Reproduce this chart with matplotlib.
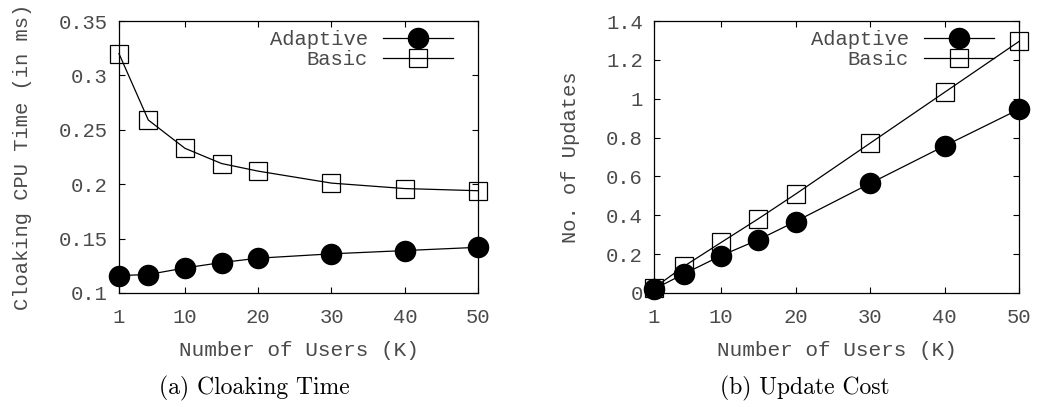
import matplotlib
matplotlib.use("Agg")
import matplotlib.pyplot as plt

# Data
users = [1, 5, 10, 15, 20, 30, 40, 50]
x_ticks = [1, 10, 20, 30, 40, 50]
x_tick_labels = ["1", "10", "20", "30", "40", "50"]

cloak_adaptive = [0.116, 0.117, 0.123, 0.128, 0.132, 0.136, 0.139, 0.142]
cloak_basic = [0.320, 0.259, 0.233, 0.219, 0.212, 0.201, 0.196, 0.194]
cloak_yticks = [0.1, 0.15, 0.2, 0.25, 0.3, 0.35]
cloak_ylabels = ["0.1", "0.15", "0.2", "0.25", "0.3", "0.35"]

update_adaptive = [0.020, 0.098, 0.192, 0.274, 0.368, 0.564, 0.757, 0.946]
update_basic = [0.026, 0.137, 0.260, 0.382, 0.509, 0.771, 1.033, 1.295]
update_yticks = [0, 0.2, 0.4, 0.6, 0.8, 1.0, 1.2, 1.4]
update_ylabels = ["0", "0.2", "0.4", "0.6", "0.8", "1", "1.2", "1.4"]

MONO = "Liberation Mono"
TXT = "#4a4a4a"
FS = 14.8

fig = plt.figure(figsize=(10.52, 4.07), dpi=100)
ax1 = fig.add_axes([0.1131, 0.2801, 0.3413, 0.6683])
ax2 = fig.add_axes([0.6217, 0.2801, 0.3470, 0.6683])


def style_axis(ax, yticks, ylabels, ylim, ylabel):
    ax.set_xlim(1, 50)
    ax.set_ylim(*ylim)
    ax.set_xticks(x_ticks)
    ax.set_xticklabels(x_tick_labels)
    ax.set_yticks(yticks)
    ax.set_yticklabels(ylabels)
    ax.tick_params(direction="in", length=4, width=0.8, top=True, right=True,
                   labelsize=FS, labelcolor=TXT)
    ax.tick_params(axis="x", pad=11)
    ax.tick_params(axis="y", pad=8)
    for lab in ax.get_xticklabels() + ax.get_yticklabels():
        lab.set_fontfamily(MONO)
    for sp in ax.spines.values():
        sp.set_linewidth(0.9)
    ax.set_xlabel("Number of Users (K)", fontfamily=MONO, fontsize=FS + 0.4,
                  color=TXT, labelpad=10)
    ax.set_ylabel(ylabel, fontfamily=MONO, fontsize=FS, color=TXT, labelpad=19)


def draw_series(ax, adaptive, basic):
    ax.plot(users, adaptive, color="black", lw=0.9, marker="o", ms=14.5,
            mfc="black", mec="black", label="Adaptive", clip_on=False, zorder=3)
    ax.plot(users, basic, color="black", lw=0.9, marker="s", ms=13.5,
            mfc="none", mec="black", mew=0.9, label="Basic", clip_on=False,
            zorder=3)
    leg = ax.legend(loc="upper right", bbox_to_anchor=(0.957, 1.0),
                    frameon=False, markerfirst=False, handlelength=3.4,
                    handletextpad=0.75, labelspacing=0.05, borderaxespad=0.05,
                    prop={"family": MONO, "size": FS})
    for t in leg.get_texts():
        t.set_color(TXT)


draw_series(ax1, cloak_adaptive, cloak_basic)
style_axis(ax1, cloak_yticks, cloak_ylabels, (0.1, 0.35),
           "Cloaking CPU Time (in ms)")

draw_series(ax2, update_adaptive, update_basic)
style_axis(ax2, update_yticks, update_ylabels, (0, 1.4), "No. of Updates")

fig.text(0.2414, 0.046, "(a) Cloaking Time", family="cmr10", fontsize=17,
         ha="center", va="center")
fig.text(0.765, 0.046, "(b) Update Cost", family="cmr10", fontsize=17,
         ha="center", va="center")

fig.savefig("out.png", dpi=100)
